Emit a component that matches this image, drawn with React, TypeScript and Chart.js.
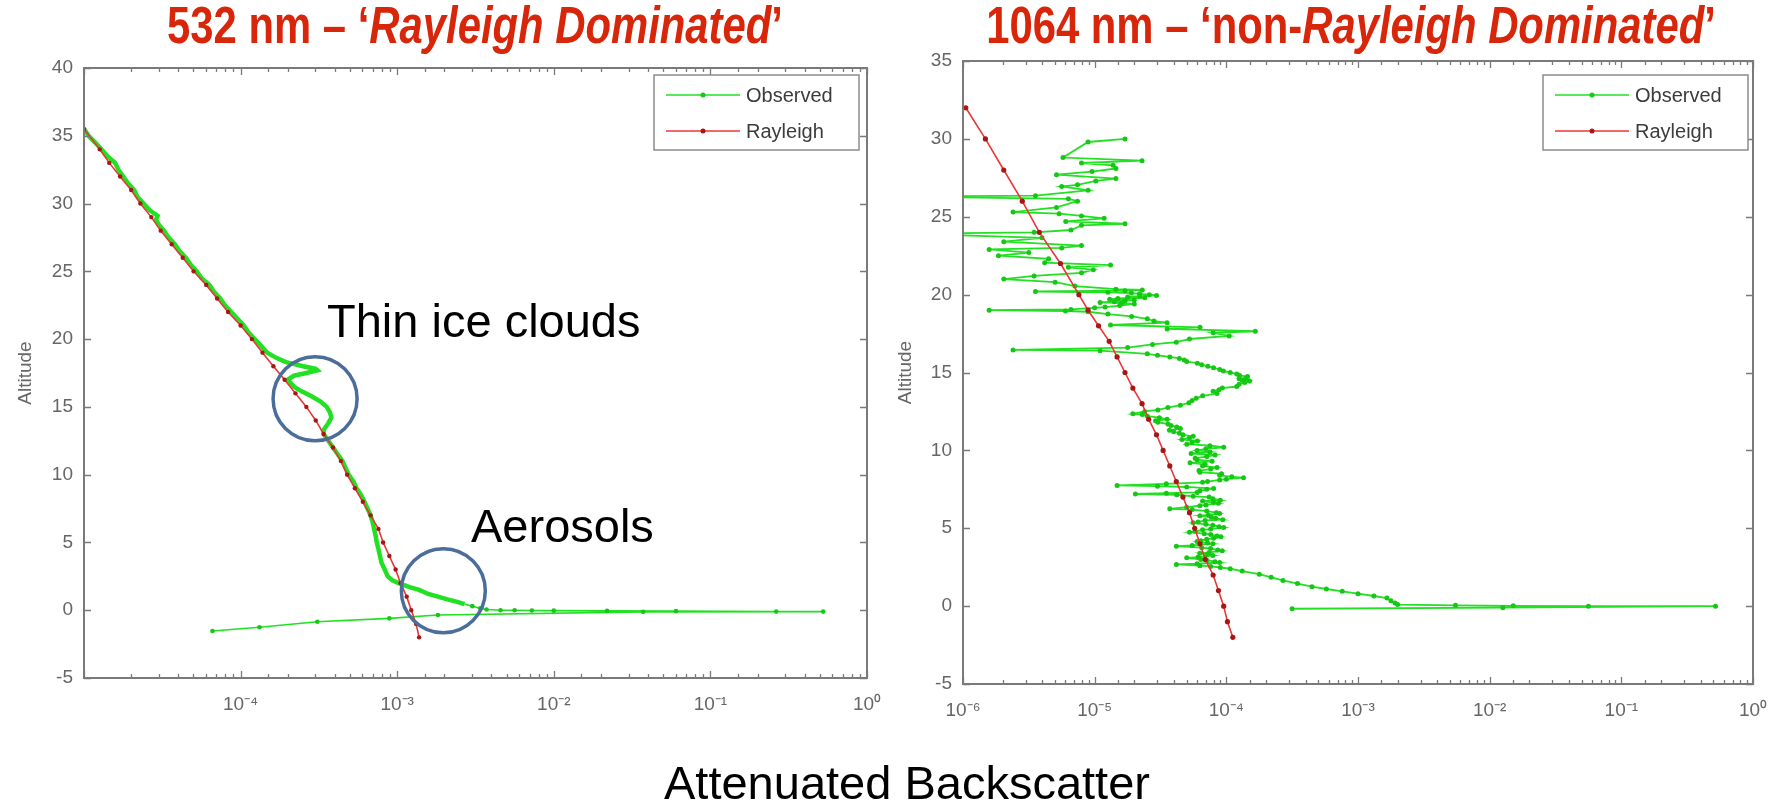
import React, { useEffect, useRef } from 'react';
import { Chart, registerables } from 'chart.js';

Chart.register(...registerables);

// ---------------- DATA ----------------
// 532 nm panel
const LEFT_RAYLEIGH_ALT = [35.5, 34, 33, 32, 31, 30, 29, 28, 27, 26, 25, 24, 23, 22, 21, 20, 19, 18, 17, 16, 15, 14, 13, 12, 11, 10, 9, 8, 7, 6, 5, 4, 3, 2, 1, 0, -1, -2];
const LEFT_RAYLEIGH_BSC = [1.0e-5, 1.26e-5, 1.45e-5, 1.70e-5, 2.0e-5, 2.29e-5, 2.69e-5, 3.09e-5, 3.63e-5, 4.27e-5, 5.01e-5, 6.03e-5, 7.08e-5, 8.32e-5, 1.0e-4, 1.18e-4, 1.38e-4, 1.62e-4, 1.91e-4, 2.24e-4, 2.63e-4, 3.02e-4, 3.39e-4, 3.89e-4, 4.37e-4, 4.79e-4, 5.37e-4, 6.03e-4, 6.76e-4, 7.59e-4, 8.13e-4, 8.91e-4, 9.77e-4, 1.05e-3, 1.15e-3, 1.23e-3, 1.32e-3, 1.38e-3];

const LEFT_OBS_ALT = [35.5, 35.0, 34.5, 34.0, 33.5, 33.0, 32.5, 32.0, 31.5, 31.0, 30.5, 30.0, 29.5, 29.1, 28.8, 28.4, 28.0, 27.5, 27.0, 26.5, 26.0, 25.5, 25.0, 24.5, 24.0, 23.5, 23.0, 22.5, 22.0, 21.5, 21.0, 20.5, 20.0, 19.5, 19.0, 18.6, 18.3, 18.0, 17.8, 17.7, 17.5, 17.3, 17.0, 16.5, 16.2, 15.8, 15.4, 15.0, 14.6, 14.2, 13.8, 13.3, 13.0, 12.5, 12.0, 11.5, 11.0, 10.5, 10.0, 9.5, 9.0, 8.5, 8.0, 7.5, 7.0, 6.5, 6.0, 5.5, 5.0, 4.5, 4.0, 3.5, 3.0, 2.5, 2.2, 2.0, 1.7, 1.5, 1.2, 1.0, 0.8, 0.6, 0.45, 0.3, 0.15, 0.05, 0.0, 0.0, -0.02, -0.03, -0.05, -0.07, -0.1, -0.1, -0.12, -0.35, -0.6, -0.85, -1.26, -1.53];
const LEFT_OBS_BSC = [1.0e-5, 1.07e-5, 1.18e-5, 1.29e-5, 1.41e-5, 1.58e-5, 1.66e-5, 1.78e-5, 1.91e-5, 2.09e-5, 2.19e-5, 2.40e-5, 2.63e-5, 2.95e-5, 2.88e-5, 3.02e-5, 3.24e-5, 3.47e-5, 3.80e-5, 4.07e-5, 4.47e-5, 4.79e-5, 5.25e-5, 5.62e-5, 6.31e-5, 6.76e-5, 7.41e-5, 7.94e-5, 8.71e-5, 9.55e-5, 1.05e-4, 1.12e-4, 1.23e-4, 1.35e-4, 1.48e-4, 1.70e-4, 1.95e-4, 2.51e-4, 3.02e-4, 3.09e-4, 2.63e-4, 2.19e-4, 2.0e-4, 2.19e-4, 2.40e-4, 2.82e-4, 3.24e-4, 3.55e-4, 3.72e-4, 3.80e-4, 3.63e-4, 3.39e-4, 3.39e-4, 3.63e-4, 3.89e-4, 4.17e-4, 4.47e-4, 4.68e-4, 4.90e-4, 5.25e-4, 5.50e-4, 5.89e-4, 6.17e-4, 6.46e-4, 6.76e-4, 6.96e-4, 7.12e-4, 7.28e-4, 7.41e-4, 7.59e-4, 7.76e-4, 7.94e-4, 8.32e-4, 8.71e-4, 9.33e-4, 1.02e-3, 1.20e-3, 1.38e-3, 1.58e-3, 1.82e-3, 2.09e-3, 2.45e-3, 2.69e-3, 3.02e-3, 3.39e-3, 3.72e-3, 4.57e-3, 5.62e-3, 7.24e-3, 1.0e-2, 2.19e-2, 6.03e-2, 2.63e-1, 5.25e-1, 3.72e-2, 1.82e-3, 8.91e-4, 3.09e-4, 1.32e-4, 6.61e-5];

// 1064 nm panel
const RIGHT_RAYLEIGH_ALT = [32, 30, 28, 26, 24, 22, 20, 19, 18, 17, 16, 15, 14, 13, 12, 11, 10, 9, 8, 7, 6, 5, 4, 3, 2, 1, 0, -1, -2];
const RIGHT_RAYLEIGH_BSC = [1.05e-6, 1.48e-6, 2.04e-6, 2.82e-6, 3.80e-6, 5.50e-6, 7.59e-6, 8.91e-6, 1.07e-5, 1.29e-5, 1.48e-5, 1.70e-5, 1.95e-5, 2.29e-5, 2.57e-5, 2.95e-5, 3.31e-5, 3.72e-5, 4.17e-5, 4.68e-5, 5.25e-5, 5.75e-5, 6.31e-5, 6.92e-5, 7.94e-5, 8.71e-5, 9.55e-5, 1.02e-4, 1.12e-4];

// observed 1064 nm profile: [altitude km, attenuated backscatter]
const RIGHT_OBS_PROFILE: [number, number][] = [
  [30.0, 1.70e-5], [29.8, 8.91e-6], [28.8, 5.75e-6], [28.6, 2.29e-5], [28.45, 7.94e-6], [28.3, 1.38e-5],
  [28.1, 1.45e-5], [27.9, 9.55e-6], [27.7, 5.13e-6], [27.45, 1.45e-5], [27.3, 1.02e-5], [27.05, 7.41e-6],
  [26.95, 5.62e-6], [26.7, 8.91e-6], [26.35, 3.55e-6], [26.3, 3.98e-7], [26.15, 6.31e-6], [26.0, 7.41e-6],
  [25.6, 5.13e-6], [25.3, 2.40e-6], [25.2, 5.37e-6], [25.05, 7.94e-6], [24.9, 1.18e-5], [24.7, 6.03e-6],
  [24.55, 1.70e-5], [24.45, 7.94e-6], [24.15, 6.61e-6], [24.0, 3.47e-6], [23.9, 3.98e-7], [23.65, 3.98e-6],
  [23.4, 2.04e-6], [23.15, 7.94e-6], [23.0, 5.62e-6], [22.9, 1.58e-6], [22.7, 3.16e-6], [22.5, 1.86e-6],
  [22.3, 4.47e-6], [22.05, 4.17e-6], [21.9, 1.32e-5], [21.75, 6.31e-6], [21.6, 9.77e-6], [21.4, 7.94e-6],
  [21.2, 3.47e-6], [21.0, 2.04e-6], [20.8, 5.01e-6], [20.55, 7.08e-6],
  [20.35, 1.45e-5], [20.3, 2.3e-5], [20.25, 1.7e-5], [20.2, 3.55e-6], [20.15, 1.26e-5], [20.1, 1.9e-5],
  [20.05, 2.19e-5], [20.0, 2.6e-5], [19.95, 2.95e-5], [19.9, 2.2e-5], [19.85, 1.78e-5], [19.8, 2.4e-5],
  [19.75, 1.5e-5], [19.7, 1.3e-5], [19.65, 2.0e-5], [19.6, 1.7e-5], [19.55, 1.41e-5], [19.5, 1.1e-5],
  [19.45, 1.6e-5], [19.4, 2.0e-5], [19.3, 1.55e-5], [19.2, 1.2e-5], [19.15, 1.0e-5], [19.05, 6.61e-6],
  [19.0, 1.58e-6], [18.95, 6.0e-6], [18.9, 8.91e-6],
  [18.75, 1.26e-5], [18.6, 1.91e-5], [18.45, 2.51e-5], [18.3, 2.82e-5], [18.2, 3.55e-5], [18.05, 1.32e-5],
  [17.9, 6.31e-5], [17.8, 3.55e-5], [17.65, 1.66e-4], [17.55, 7.94e-5], [17.35, 1.05e-4], [17.15, 5.25e-5],
  [16.95, 4.17e-5], [16.8, 2.75e-5], [16.6, 1.78e-5], [16.45, 2.40e-6], [16.4, 1.10e-5], [16.2, 2.51e-5],
  [16.1, 3.0e-5], [16.0, 3.72e-5], [15.9, 4.4e-5], [15.8, 4.79e-5], [15.7, 5.0e-5], [15.6, 6.03e-5],
  [15.5, 6.5e-5], [15.4, 7.24e-5], [15.3, 8.0e-5], [15.2, 8.91e-5], [15.1, 9.5e-5], [15.0, 1.07e-4],
  [14.9, 1.2e-4], [14.8, 1.26e-4], [14.75, 1.45e-4], [14.65, 1.41e-4], [14.6, 1.25e-4], [14.5, 1.32e-4],
  [14.45, 1.5e-4], [14.35, 1.38e-4], [14.25, 1.25e-4], [14.1, 1.2e-4], [14.0, 9.33e-5], [13.9, 8.8e-5],
  [13.8, 7.94e-5], [13.65, 8.5e-5], [13.5, 6.61e-5], [13.35, 5.9e-5], [13.2, 5.5e-5], [13.05, 5.2e-5],
  [12.9, 4.47e-5], [12.75, 3.6e-5],
  [12.6, 3.02e-5], [12.5, 2.4e-5], [12.35, 1.95e-5], [12.3, 2.3e-5], [12.2, 2.51e-5], [12.1, 3.1e-5],
  [12.0, 3.55e-5], [11.9, 2.9e-5], [11.8, 3.02e-5], [11.7, 3.6e-5], [11.6, 3.8e-5], [11.5, 4.2e-5],
  [11.4, 4.47e-5], [11.3, 3.7e-5], [11.2, 3.98e-5], [11.1, 4.4e-5], [11.0, 4.68e-5], [10.9, 5.6e-5],
  [10.8, 5.25e-5], [10.7, 4.6e-5], [10.6, 6.03e-5], [10.5, 5.5e-5], [10.4, 5.01e-5], [10.3, 7.5e-5],
  [10.2, 9.55e-5], [10.1, 7.0e-5],
  [10.0, 6.0e-5], [9.9, 7.5e-5], [9.8, 5.4e-5], [9.7, 8.2e-5], [9.6, 7.1e-5], [9.5, 5.8e-5],
  [9.4, 6.0e-5], [9.3, 7.8e-5], [9.2, 5.3e-5], [9.1, 6.9e-5], [9.0, 6.6e-5], [8.9, 8.5e-5],
  [8.8, 7.6e-5], [8.7, 6.2e-5], [8.6, 6.3e-5], [8.5, 9.2e-5], [8.4, 8.9e-5], [8.3, 1.1e-4],
  [8.25, 1.35e-4], [8.15, 1.0e-4], [8.1, 8.9e-5], [8.0, 7.2e-5], [7.95, 6.6e-5], [7.85, 3.5e-5],
  [7.75, 1.48e-5], [7.7, 3.0e-5], [7.65, 5.0e-5], [7.55, 8.0e-5], [7.5, 7.1e-5], [7.4, 6.3e-5],
  [7.3, 6.0e-5], [7.25, 3.5e-5], [7.2, 2.04e-5], [7.15, 4.2e-5], [7.05, 5.6e-5], [7.0, 7.4e-5],
  [6.9, 7.9e-5], [6.8, 9.0e-5], [6.75, 6.6e-5], [6.65, 8.0e-5], [6.6, 8.7e-5], [6.5, 7.0e-5],
  [6.45, 6.3e-5], [6.35, 5.0e-5], [6.25, 3.72e-5], [6.2, 5.5e-5], [6.1, 7.1e-5], [6.0, 8.4e-5],
  [5.95, 8.9e-5], [5.85, 7.3e-5], [5.8, 6.3e-5], [5.7, 7.7e-5], [5.65, 8.3e-5], [5.55, 9.4e-5],
  [5.5, 6.9e-5], [5.4, 6.1e-5], [5.35, 5.6e-5], [5.25, 7.0e-5], [5.2, 7.9e-5], [5.1, 8.8e-5],
  [5.05, 9.55e-5], [4.95, 7.6e-5], [4.9, 6.6e-5], [4.8, 5.8e-5], [4.75, 5.25e-5], [4.65, 6.8e-5],
  [4.6, 7.6e-5], [4.5, 8.5e-5], [4.45, 9.1e-5], [4.35, 8.0e-5], [4.3, 7.1e-5], [4.2, 6.4e-5],
  [4.15, 6.0e-5], [4.05, 7.2e-5], [4.0, 7.9e-5], [3.9, 5.5e-5], [3.85, 4.17e-5], [3.75, 6.5e-5],
  [3.7, 7.6e-5], [3.6, 8.6e-5], [3.55, 9.3e-5], [3.45, 7.4e-5], [3.4, 6.3e-5], [3.3, 7.1e-5],
  [3.25, 7.9e-5], [3.15, 6.1e-5], [3.1, 5.0e-5], [3.0, 6.4e-5], [2.95, 7.1e-5], [2.85, 8.2e-5],
  [2.8, 8.9e-5], [2.72, 6.0e-5], [2.68, 4.17e-5], [2.6, 6.3e-5], [2.55, 7.6e-5], [2.48, 9.0e-5],
  [2.4, 1.07e-4], [2.25, 1.32e-4], [2.05, 1.78e-4], [1.85, 2.19e-4], [1.65, 2.69e-4], [1.45, 3.47e-4],
  [1.25, 4.47e-4], [1.1, 5.75e-4], [0.95, 7.59e-4], [0.8, 1.0e-3], [0.65, 1.32e-3], [0.52, 1.66e-3],
  [0.35, 1.78e-3], [0.2, 1.91e-3], [0.1, 2.0e-3], [0.05, 5.50e-3], [0.02, 1.51e-2], [0.0, 5.62e-2],
  [0.0, 5.19e-1], [-0.1, 1.26e-2], [-0.17, 3.16e-4],
];

// axis settings
const LEFT_X_RANGE = [1e-5, 1];
const LEFT_Y_RANGE = [-5, 40];
const RIGHT_X_RANGE = [1e-6, 1];
const RIGHT_Y_RANGE = [-5, 35];
const Y_TICK_STEP = 5;
const LEGEND_LABELS = ['Observed', 'Rayleigh'];

// annotation circles (data coordinates of their centres)
const LEFT_CIRCLE_X = [2.99e-4, 1.97e-3];
const LEFT_CIRCLE_Y = [15.6, 1.44];

// ---------------- STYLE ----------------
const GREEN = '#22e022';
const GREEN_PT = '#14c814';
const RED = '#ee3535';
const RED_PT = '#a81616';
const AXIS_GRAY = '#7a7a7a';
const LABEL_GRAY = '#666666';
const TITLE_RED = '#d8260b';
const CIRCLE_BLUE = '#4a6d9a';
const FONT = '"Liberation Sans", Arial, Helvetica, sans-serif';

const SUP: Record<string, string> = { '-': '\u207B', '0': '\u2070', '1': '\u00B9', '2': '\u00B2', '3': '\u00B3', '4': '\u2074', '5': '\u2075', '6': '\u2076', '7': '\u2077', '8': '\u2078', '9': '\u2079' };
const sup = (n: number) => String(n).split('').map((c) => SUP[c] ?? c).join('');
const isDecade = (v: number) => {
  const e = Math.log10(v);
  return Math.abs(e - Math.round(e)) < 1e-7;
};
const pts = (xs: number[], ys: number[]) => xs.map((x, i) => ({ x, y: ys[i] }));
const profilePts = (rows: [number, number][]) => rows.map(([alt, bsc]) => ({ x: bsc, y: alt }));

// MATLAB-like box with inward ticks on all four sides
const framePlugin = {
  id: 'matlabFrame',
  afterDatasetsDraw(chart: any) {
    const { ctx, chartArea: a, scales } = chart;
    ctx.save();
    ctx.strokeStyle = AXIS_GRAY;
    ctx.lineWidth = 1.3;
    ctx.beginPath();
    for (const t of scales.x.ticks) {
      const px = Math.round(scales.x.getPixelForValue(t.value)) + 0.5;
      const len = isDecade(t.value) ? 7 : 4;
      ctx.moveTo(px, a.bottom);
      ctx.lineTo(px, a.bottom - len);
      ctx.moveTo(px, a.top);
      ctx.lineTo(px, a.top + len);
    }
    for (const t of scales.y.ticks) {
      const py = Math.round(scales.y.getPixelForValue(t.value)) + 0.5;
      ctx.moveTo(a.left, py);
      ctx.lineTo(a.left + 7, py);
      ctx.moveTo(a.right, py);
      ctx.lineTo(a.right - 7, py);
    }
    ctx.stroke();
    ctx.lineWidth = 2;
    ctx.strokeRect(a.left, a.top, a.right - a.left, a.bottom - a.top);
    ctx.restore();
  },
};

const legendPlugin = {
  id: 'mlegend',
  afterDraw(chart: any, _args: any, opts: any) {
    const { ctx, chartArea: a } = chart;
    const w = 205;
    const h = 75;
    const x0 = a.right - opts.dx - w;
    const y0 = a.top + opts.dy;
    ctx.save();
    ctx.fillStyle = '#ffffff';
    ctx.fillRect(x0, y0, w, h);
    ctx.strokeStyle = '#8c8c8c';
    ctx.lineWidth = 1.5;
    ctx.strokeRect(x0, y0, w, h);
    chart.data.datasets.forEach((ds: any, i: number) => {
      const y = y0 + 20 + i * 36;
      ctx.strokeStyle = ds.borderColor;
      ctx.lineWidth = 1.5;
      ctx.beginPath();
      ctx.moveTo(x0 + 12, y);
      ctx.lineTo(x0 + 86, y);
      ctx.stroke();
      ctx.fillStyle = ds.pointBackgroundColor;
      ctx.beginPath();
      ctx.arc(x0 + 49, y, 2.5, 0, Math.PI * 2);
      ctx.fill();
      ctx.fillStyle = '#3c3c3c';
      ctx.font = `20px ${FONT}`;
      ctx.textBaseline = 'middle';
      ctx.textAlign = 'left';
      ctx.fillText(ds.label, x0 + 92, y + 1);
    });
    ctx.restore();
  },
};

const circlePlugin = {
  id: 'circles',
  afterDraw(chart: any, _args: any, opts: any) {
    if (!opts.xs || !opts.xs.length) return;
    const { ctx, scales } = chart;
    ctx.save();
    ctx.strokeStyle = CIRCLE_BLUE;
    ctx.lineWidth = 3.5;
    opts.xs.forEach((xv: number, i: number) => {
      const cx = scales.x.getPixelForValue(xv);
      const cy = scales.y.getPixelForValue(opts.ys[i]);
      ctx.beginPath();
      ctx.arc(cx, cy, opts.r, 0, Math.PI * 2);
      ctx.stroke();
    });
    ctx.restore();
  },
};

type PanelProps = {
  obs: { x: number; y: number }[];
  ray: { x: number; y: number }[];
  xRange: number[];
  yRange: number[];
  hideDecade: number | null;
  thick: boolean;
  yAxisWidth: number;
  pad: { top: number; right: number; bottom: number; left: number };
  legend: { dx: number; dy: number };
  circles: { xs: number[]; ys: number[]; r: number };
  rayRadius: number;
};

function buildConfig(p: PanelProps): any {
  return {
    type: 'scatter',
    data: {
      datasets: [
        {
          label: LEGEND_LABELS[0],
          data: p.obs,
          showLine: true,
          borderColor: GREEN,
          backgroundColor: GREEN_PT,
          pointBackgroundColor: GREEN_PT,
          pointBorderWidth: 0,
          borderWidth: p.thick ? 4 : 1.8,
          segment: p.thick
            ? { borderWidth: (c: any) => (c.p0.parsed.y > 0.4 && c.p1.parsed.y > 0.4 ? 4.5 : 1.6) }
            : undefined,
          pointRadius: p.thick ? (c: any) => (c.raw && c.raw.y <= 0.4 ? 2.3 : 0) : 2.5,
          order: 1,
        },
        {
          label: LEGEND_LABELS[1],
          data: p.ray,
          showLine: true,
          borderColor: RED,
          backgroundColor: RED_PT,
          pointBackgroundColor: RED_PT,
          pointBorderWidth: 0,
          borderWidth: 1.6,
          pointRadius: p.rayRadius,
          order: 0,
        },
      ],
    },
    options: {
      responsive: false,
      animation: false,
      events: [],
      layout: { padding: p.pad },
      plugins: {
        legend: { display: false },
        tooltip: { enabled: false },
        title: { display: false },
        mlegend: p.legend,
        circles: p.circles,
      },
      scales: {
        x: {
          type: 'logarithmic',
          position: 'bottom',
          min: p.xRange[0],
          max: p.xRange[1],
          grid: { display: false, drawTicks: false },
          border: { display: false },
          afterFit: (s: any) => {
            s.height = 60;
          },
          ticks: {
            autoSkip: false,
            maxRotation: 0,
            minRotation: 0,
            padding: 15,
            color: LABEL_GRAY,
            font: { family: FONT, size: 19 },
            callback: (v: any) => {
              const val = Number(v);
              if (!isDecade(val)) return '';
              const e = Math.round(Math.log10(val));
              if (p.hideDecade !== null && e === p.hideDecade) return '';
              return '10' + sup(e);
            },
          },
        },
        y: {
          type: 'linear',
          position: 'left',
          min: p.yRange[0],
          max: p.yRange[1],
          grid: { display: false, drawTicks: false },
          border: { display: false },
          afterFit: (s: any) => {
            s.width = p.yAxisWidth;
          },
          title: {
            display: true,
            text: 'Altitude',
            color: LABEL_GRAY,
            font: { family: FONT, size: 19 },
            padding: { top: 14, bottom: 0 },
          },
          ticks: {
            stepSize: Y_TICK_STEP,
            padding: 11,
            color: LABEL_GRAY,
            font: { family: FONT, size: 19 },
          },
        },
      },
    },
    plugins: [framePlugin, legendPlugin, circlePlugin],
  };
}

function Panel({ props, left, width, height }: { props: PanelProps; left: number; width: number; height: number }) {
  const ref = useRef<HTMLCanvasElement | null>(null);
  useEffect(() => {
    if (!ref.current) return;
    const chart = new Chart(ref.current, buildConfig(props));
    return () => chart.destroy();
  }, []);
  return (
    <canvas
      ref={ref}
      width={width}
      height={height}
      style={{ position: 'absolute', left, top: 0, width, height, display: 'block' }}
    />
  );
}

const leftProps: PanelProps = {
  obs: pts(LEFT_OBS_BSC, LEFT_OBS_ALT),
  ray: pts(LEFT_RAYLEIGH_BSC, LEFT_RAYLEIGH_ALT),
  xRange: LEFT_X_RANGE,
  yRange: LEFT_Y_RANGE,
  hideDecade: -5,
  thick: true,
  yAxisWidth: 84,
  pad: { top: 68, right: 33, bottom: 22, left: 0 },
  legend: { dx: 8, dy: 7 },
  circles: { xs: LEFT_CIRCLE_X, ys: LEFT_CIRCLE_Y, r: 42 },
  rayRadius: 2.2,
};

const rightProps: PanelProps = {
  obs: profilePts(RIGHT_OBS_PROFILE),
  ray: pts(RIGHT_RAYLEIGH_BSC, RIGHT_RAYLEIGH_ALT),
  xRange: RIGHT_X_RANGE,
  yRange: RIGHT_Y_RANGE,
  hideDecade: null,
  thick: false,
  yAxisWidth: 83,
  pad: { top: 61, right: 31, bottom: 16, left: 0 },
  legend: { dx: 5, dy: 14 },
  circles: { xs: [], ys: [], r: 0 },
  rayRadius: 2.6,
};

const titleStyle: React.CSSProperties = {
  position: 'absolute',
  top: 1,
  width: 900,
  textAlign: 'center',
  fontFamily: FONT,
  fontWeight: 'bold',
  fontSize: 51,
  lineHeight: '50px',
  color: TITLE_RED,
  whiteSpace: 'nowrap',
  transform: 'scaleX(0.82)',
  transformOrigin: '50% 50%',
};

const noteStyle: React.CSSProperties = {
  position: 'absolute',
  fontFamily: FONT,
  fontSize: 47,
  lineHeight: '47px',
  color: '#000',
  whiteSpace: 'nowrap',
};

export default function App() {
  return (
    <div
      style={{
        position: 'absolute',
        left: 0,
        top: 0,
        width: 1784,
        height: 803,
        background: '#ffffff',
        overflow: 'hidden',
      }}
    >
      <Panel props={leftProps} left={0} width={900} height={760} />
      <Panel props={rightProps} left={880} width={904} height={760} />

      <div style={{ ...titleStyle, left: 475 - 450 }}>
        532 nm – ‘<i>Rayleigh Dominated</i>’
      </div>
      <div style={{ ...titleStyle, left: 1351 - 450 }}>
        1064 nm – ‘non-<i>Rayleigh Dominated</i>’
      </div>

      <div style={{ ...noteStyle, left: 327, top: 297 }}>Thin ice clouds</div>
      <div style={{ ...noteStyle, left: 471, top: 502 }}>Aerosols</div>

      <div style={{ ...noteStyle, left: 907 - 400, width: 800, textAlign: 'center', top: 759 }}>
        Attenuated Backscatter
      </div>
    </div>
  );
}
